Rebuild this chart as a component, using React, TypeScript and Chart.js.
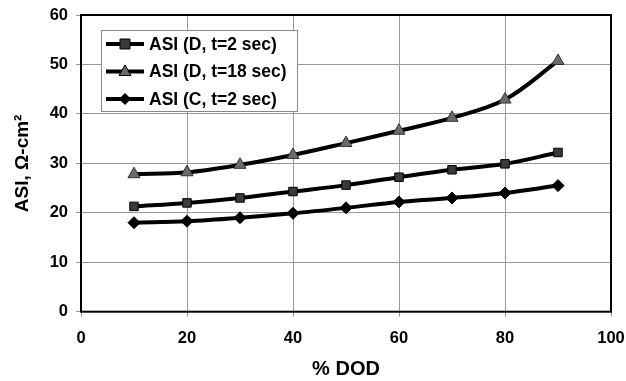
import React, { useEffect, useRef } from "react";
import { Chart, registerables } from "chart.js";

Chart.register(...registerables);

const dod = [10, 20, 30, 40, 50, 60, 70, 80, 90];
const asiD2 = [21.3, 22.0, 23.0, 24.3, 25.6, 27.2, 28.7, 29.9, 32.2];
const asiD18 = [27.8, 28.2, 29.7, 31.7, 34.1, 36.6, 39.2, 42.9, 50.7];
const asiC2 = [18.0, 18.3, 19.0, 19.9, 21.0, 22.2, 23.0, 24.0, 25.5];
const seriesLabels = ["ASI (D, t=2 sec)", "ASI (D, t=18 sec)", "ASI (C, t=2 sec)"];
const xTitle = "% DOD";
const yTitle = "ASI, Ω-cm²";

const FONT = "Arial, 'Liberation Sans', Helvetica, sans-serif";

const borderPlugin = {
  id: "plotBorder",
  beforeDatasetsDraw(chart: any) {
    const { ctx, chartArea: a } = chart;
    ctx.save();
    ctx.strokeStyle = "#000";
    ctx.lineWidth = 2;
    ctx.strokeRect(a.left, a.top, a.right - a.left, a.bottom - a.top);
    ctx.restore();
  },
};

const legendPlugin = {
  id: "insideLegend",
  afterDraw(chart: any) {
    const { ctx } = chart;
    const x0 = 101, y0 = 30, w = 196, h = 81;
    ctx.save();
    ctx.fillStyle = "#fff";
    ctx.fillRect(x0, y0, w, h);
    ctx.strokeStyle = "#888";
    ctx.lineWidth = 1;
    ctx.strokeRect(x0 + 0.5, y0 + 0.5, w, h);
    const rows = [44, 71.5, 99];
    chart.data.datasets.forEach((ds: any, i: number) => {
      const y = rows[i];
      ctx.strokeStyle = "#000";
      ctx.lineWidth = 4;
      ctx.beginPath();
      ctx.moveTo(106, y);
      ctx.lineTo(144, y);
      ctx.stroke();
      ctx.fillStyle = ds.pointBackgroundColor;
      ctx.strokeStyle = "#000";
      ctx.lineWidth = 1;
      const cx = 125;
      ctx.beginPath();
      if (ds.pointStyle === "rect") {
        ctx.rect(cx - 5, y - 5, 10, 10);
      } else if (ds.pointStyle === "triangle") {
        ctx.moveTo(cx, y - 6.5);
        ctx.lineTo(cx + 6, y + 4);
        ctx.lineTo(cx - 6, y + 4);
        ctx.closePath();
      } else {
        ctx.moveTo(cx, y - 5.5);
        ctx.lineTo(cx + 5.5, y);
        ctx.lineTo(cx, y + 5.5);
        ctx.lineTo(cx - 5.5, y);
        ctx.closePath();
      }
      ctx.fill();
      ctx.stroke();
      ctx.fillStyle = "#000";
      ctx.font = `bold 17.5px ${FONT}`;
      ctx.textBaseline = "middle";
      ctx.textAlign = "left";
      ctx.fillText(ds.label, 149, y + 1);
    });
    ctx.restore();
  },
};

export default function App() {
  const ref = useRef<HTMLCanvasElement | null>(null);
  useEffect(() => {
    document.body.style.margin = "0";
    const mk = (vals: number[]) => dod.map((x, i) => ({ x, y: vals[i] }));
    const chart = new Chart(ref.current as HTMLCanvasElement, {
      type: "line",
      data: {
        datasets: [
          {
            label: seriesLabels[0],
            data: mk(asiD2),
            borderColor: "#000",
            borderWidth: 4,
            pointStyle: "rect",
            pointRadius: 6,
            pointBackgroundColor: "#3a3a3a",
            pointBorderColor: "#000",
            pointBorderWidth: 1,
            tension: 0.35,
          },
          {
            label: seriesLabels[1],
            data: mk(asiD18),
            borderColor: "#000",
            borderWidth: 4,
            pointStyle: "triangle",
            pointRadius: 7,
            pointBackgroundColor: "#6a6a6a",
            pointBorderColor: "#333",
            pointBorderWidth: 1,
            tension: 0.35,
          },
          {
            label: seriesLabels[2],
            data: mk(asiC2),
            borderColor: "#000",
            borderWidth: 4,
            pointStyle: "rectRot",
            pointRadius: 6,
            pointBackgroundColor: "#000",
            pointBorderColor: "#000",
            pointBorderWidth: 1,
            tension: 0.35,
          },
        ],
      },
      options: {
        animation: false,
        responsive: false,
        layout: { padding: { top: 15, right: 15, left: 0, bottom: 0 } },
        plugins: { legend: { display: false }, tooltip: { enabled: false } },
        scales: {
          x: {
            type: "linear",
            min: 0,
            max: 100,
            ticks: {
              stepSize: 20,
              color: "#000",
              padding: 12,
              font: { family: FONT, size: 16.5, weight: "bold" },
            },
            grid: { color: "#999", lineWidth: 1, tickLength: 5, drawTicks: true },
            border: { display: false },
            title: {
              display: true,
              text: xTitle,
              color: "#000",
              padding: { top: 0, bottom: 0 },
              font: { family: FONT, size: 20, weight: "bold" },
            },
            afterFit: (s: any) => {
              s.height = 381 - 311.7;
              s.paddingLeft = 0;
              s.paddingRight = 0;
            },
          },
          y: {
            min: 0,
            max: 60,
            ticks: {
              stepSize: 10,
              color: "#000",
              padding: 8,
              font: { family: FONT, size: 16.5, weight: "bold" },
            },
            grid: { color: "#999", lineWidth: 1, tickLength: 5, drawTicks: true },
            border: { display: false },
            title: {
              display: true,
              text: yTitle,
              color: "#000",
              padding: { top: 11, bottom: 0 },
              font: { family: FONT, size: 19, weight: "bold" },
            },
            afterFit: (s: any) => {
              s.width = 81;
              s.paddingTop = 0;
              s.paddingBottom = 0;
            },
          },
        },
      } as any,
      plugins: [borderPlugin, legendPlugin],
    });
    return () => chart.destroy();
  }, []);
  return (
    <div style={{ width: 626, height: 381 }}>
      <canvas ref={ref} width={626} height={381} style={{ display: "block" }} />
    </div>
  );
}
